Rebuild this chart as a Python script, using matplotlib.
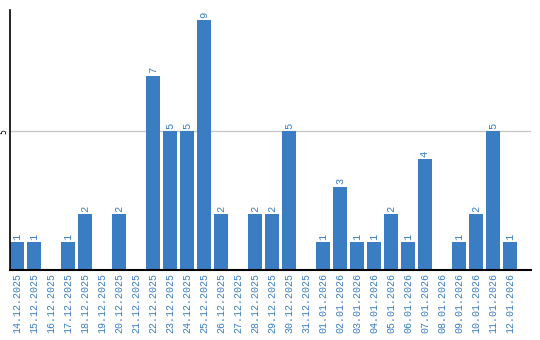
import matplotlib
matplotlib.use("Agg")
import matplotlib.pyplot as plt

dates = ["14.12.2025", "15.12.2025", "16.12.2025", "17.12.2025", "18.12.2025",
         "19.12.2025", "20.12.2025", "21.12.2025", "22.12.2025", "23.12.2025",
         "24.12.2025", "25.12.2025", "26.12.2025", "27.12.2025", "28.12.2025",
         "29.12.2025", "30.12.2025", "31.12.2025", "01.01.2026", "02.01.2026",
         "03.01.2026", "04.01.2026", "05.01.2026", "06.01.2026", "07.01.2026",
         "08.01.2026", "09.01.2026", "10.01.2026", "11.01.2026", "12.01.2026"]
counts = [1, 1, 0, 1, 2, 0, 2, 0, 7, 5, 5, 9, 2, 0, 2, 2, 5, 0, 1, 3,
          1, 1, 2, 1, 4, 0, 1, 2, 5, 1]
yticks = [5]

blue = "#3b7dc2"
mono = "Liberation Mono"

fig = plt.figure(figsize=(5.4, 3.4), dpi=100)
ax = fig.add_axes([10 / 540, 70 / 340, 521 / 540, 260 / 340])

x = list(range(len(dates)))
ax.bar(x, counts, width=0.82, color=blue, zorder=2)
for xi, v in zip(x, counts):
    if v > 0:
        ax.text(xi, v + 0.08, str(v), rotation=90, ha="center", va="bottom",
                color=blue, fontsize=7.5, family=mono)

ax.set_xlim(-0.41, 30.24)
ax.set_ylim(0, 9.36)
ax.set_xticks(x)
ax.set_xticklabels(dates, rotation=90, color=blue, fontsize=7.2, family=mono)
ax.set_yticks(yticks)
ax.set_yticklabels([str(t) for t in yticks], rotation=90, fontsize=5.5,
                   family="DejaVu Sans", va="center")
ax.tick_params(axis="x", length=0, pad=2)
ax.tick_params(axis="y", length=0, pad=1.5)
ax.yaxis.grid(True, color="#c8c8c8", linewidth=1, zorder=0)

for side in ["top", "right"]:
    ax.spines[side].set_visible(False)
ax.spines["left"].set_linewidth(1.2)
ax.spines["bottom"].set_linewidth(1.5)

fig.savefig("out.png", dpi=100)
